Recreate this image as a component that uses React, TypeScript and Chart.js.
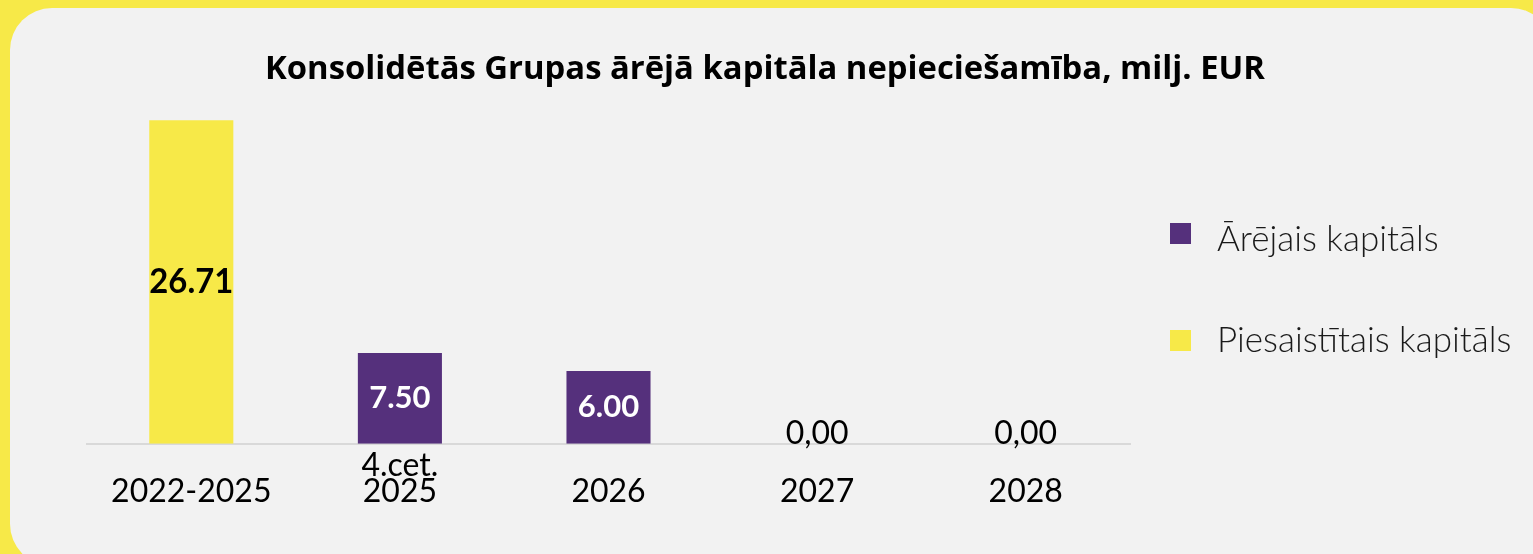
import React, { useEffect, useRef } from "react";
import { Chart, registerables } from "chart.js";

Chart.register(...registerables);

const TITLE = "Konsolidētās Grupas ārējā kapitāla nepieciešamība, milj. EUR";
const CATEGORIES: (string | string[])[] = ["2022-2025", ["4.cet.", "2025"], "2026", "2027", "2028"];
const SERIES_NAMES = ["Ārējais kapitāls", "Piesaistītais kapitāls"];
const EXTERNAL_CAPITAL: (number | null)[] = [null, 7.5, 6.0, 0, 0];
const RAISED_CAPITAL: (number | null)[] = [26.71, null, null, null, null];

const PURPLE = "#55307C";
const YELLOW = "#F7E948";
const PANEL = "#F2F2F2";

const fmt = (v: number) => (v === 0 ? "0,00" : v.toFixed(2));

const overlayPlugin = {
  id: "overlayText",
  afterDatasetsDraw(chart: any) {
    const ctx = chart.ctx as CanvasRenderingContext2D;
    ctx.save();
    chart.data.datasets.forEach((ds: any, i: number) => {
      const meta = chart.getDatasetMeta(i);
      ds.data.forEach((v: number | null, j: number) => {
        if (v === null || v === undefined) return;
        const el: any = meta.data[j];
        if (!el) return;
        ctx.textAlign = "center";
        ctx.textBaseline = "middle";
        if (v === 0) {
          ctx.font = "400 32px Lato";
          ctx.fillStyle = "#000";
          ctx.fillText(fmt(v), el.x, el.base - 10);
        } else {
          ctx.font = i === 1 ? "700 34px Lato" : "700 31px Lato";
          ctx.fillStyle = i === 1 ? "#000" : "#fff";
          ctx.fillText(fmt(v), el.x, (el.y + el.base) / 2, 84);
        }
      });
    });
    // title
    ctx.font = "700 33px 'Open Sans'";
    ctx.fillStyle = "#000";
    ctx.textAlign = "center";
    ctx.textBaseline = "alphabetic";
    ctx.fillText(TITLE, 765, 79, 1000);
    // legend
    const items = [
      { label: SERIES_NAMES[0], color: PURPLE, boxY: 223, baseY: 251, w: 228 },
      { label: SERIES_NAMES[1], color: YELLOW, boxY: 330, baseY: 352, w: 296 },
    ];
    items.forEach((it) => {
      ctx.fillStyle = it.color;
      ctx.fillRect(1170, it.boxY, 21, 21);
      ctx.font = "300 35px Lato";
      ctx.fillStyle = "#1a1a1a";
      ctx.textAlign = "left";
      ctx.fillText(it.label, 1217, it.baseY, it.w);
    });
    ctx.restore();
  },
};

export default function App() {
  const ref = useRef<HTMLCanvasElement>(null);
  useEffect(() => {
    document.body.style.margin = "0";
    const chart = new Chart(ref.current!, {
      type: "bar",
      data: {
        labels: CATEGORIES,
        datasets: [
          { label: SERIES_NAMES[0], data: EXTERNAL_CAPITAL, backgroundColor: PURPLE, categoryPercentage: 1, barPercentage: 0.403 },
          { label: SERIES_NAMES[1], data: RAISED_CAPITAL, backgroundColor: YELLOW, categoryPercentage: 1, barPercentage: 0.403 },
        ],
      },
      options: {
        responsive: false,
        animation: false,
        devicePixelRatio: 1,
        layout: { padding: { left: 87, right: 403, top: 104.5, bottom: 15 } },
        plugins: { legend: { display: false }, title: { display: false }, tooltip: { enabled: false } },
        scales: {
          x: {
            stacked: true,
            grid: { display: false, drawTicks: false },
            border: { display: true, color: "#D9D9D9", width: 2 },
            ticks: {
              color: "#000",
              font: { family: "Lato", size: 32, lineHeight: 0.8 },
              padding: 22,
              crossAlign: "far",
              maxRotation: 0,
              autoSkip: false,
            },
          },
          y: { stacked: true, display: false, min: 0, max: 28 },
        },
      },
      plugins: [overlayPlugin],
    });
    return () => chart.destroy();
  }, []);
  return (
    <div style={{ position: "fixed", left: 0, top: 0, width: 1533, height: 554, background: YELLOW, overflow: "hidden" }}>
      <div style={{ position: "absolute", left: 10, top: 8, width: 1543, height: 558, borderRadius: 42, background: PANEL }} />
      <canvas ref={ref} width={1533} height={554} style={{ position: "absolute", left: 0, top: 0, width: 1533, height: 554 }} />
    </div>
  );
}
